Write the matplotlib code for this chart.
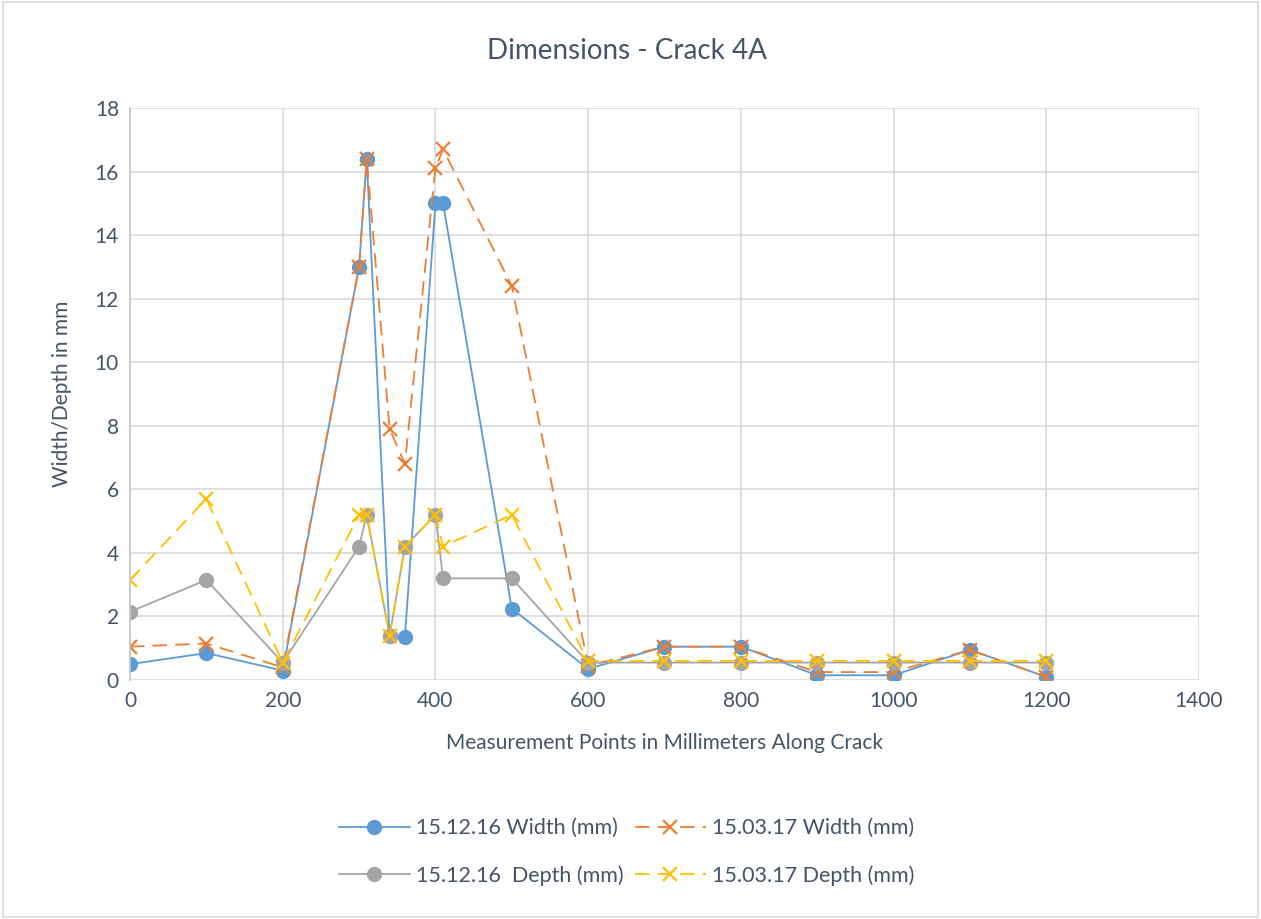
"""
Dimensions - Crack 4A
- 측정 위치별 균열 폭/깊이 (두 측정일 비교)
"""
import matplotlib
matplotlib.use("Agg")
import matplotlib.pyplot as plt
from matplotlib.patches import Rectangle

# measurement points (mm along crack)
points = [0, 100, 200, 300, 310, 340, 360, 400, 410, 500,
          600, 700, 800, 900, 1000, 1100, 1200]

width_1512 = [0.5, 0.85, 0.3, 13.0, 16.4, 1.4, 1.35, 15.0, 15.0, 2.25,
              0.35, 1.05, 1.05, 0.15, 0.15, 0.95, 0.1]
width_1503 = [1.05, 1.15, 0.4, 13.0, 16.4, 7.9, 6.8, 16.1, 16.7, 12.4,
              0.45, 1.05, 1.05, 0.25, 0.25, 0.95, 0.1]
depth_1512 = [2.15, 3.15, 0.55, 4.2, 5.2, 1.4, 4.2, 5.2, 3.2, 3.2,
              0.55, 0.55, 0.55, 0.55, 0.55, 0.55, 0.55]
depth_1503 = [3.15, 5.7, 0.55, 5.2, 5.2, 1.4, 4.2, 5.2, 4.2, 5.2,
              0.6, 0.6, 0.6, 0.6, 0.6, 0.6, 0.6]

series_labels = ["15.12.16 Width (mm)", "15.03.17 Width (mm)",
                 "15.12.16  Depth (mm)", "15.03.17 Depth (mm)"]

x_ticks = [0, 200, 400, 600, 800, 1000, 1200, 1400]
y_ticks = [0, 2, 4, 6, 8, 10, 12, 14, 16, 18]

TEXT = "#44546A"
GRID = "#D9D9D9"

plt.rcParams["font.family"] = ["Lato", "DejaVu Sans"]

fig = plt.figure(figsize=(12.61, 9.19), dpi=100)
ax = fig.add_axes([0.1031, 0.26, 0.8477, 0.6225])

# chart area border
fig.patches.append(Rectangle((0.002, 0.002), 0.996, 0.996, transform=fig.transFigure,
                             fill=False, edgecolor="#D9D9D9", linewidth=1.2))

dash = (0, (8, 4.5))
h_blue, = ax.plot(points, width_1512, color="#5B9BD5", lw=1.3, marker="o",
                  ms=10, mfc="#5B9BD5", mec="#5B9BD5")
h_orange, = ax.plot(points, width_1503, color="#ED7D31", lw=1.3, ls=dash, marker="x",
                    ms=10, mew=1.6, mec="#ED7D31")
h_gray, = ax.plot(points, depth_1512, color="#A5A5A5", lw=1.3, marker="o",
                  ms=10, mfc="#A5A5A5", mec="#A5A5A5")
h_yellow, = ax.plot(points, depth_1503, color="#FFC000", lw=1.3, ls=dash, marker="x",
                    ms=10, mew=1.6, mec="#FFC000")

ax.set_xlim(0, 1400)
ax.set_ylim(0, 18)
ax.set_xticks(x_ticks)
ax.set_yticks(y_ticks)
ax.grid(True, color=GRID, lw=1.2)
ax.set_axisbelow(True)
for side in ["top", "right", "bottom"]:
    ax.spines[side].set_visible(False)
ax.spines["left"].set_color("#BFC8D6")
ax.spines["left"].set_linewidth(1.3)
ax.tick_params(length=0, labelsize=15, colors=TEXT, pad=8)
ax.margins(0)

fig.text(0.497, 0.944, "Dimensions - Crack 4A", fontsize=20, color=TEXT,
         ha="center", va="center")
ax.set_xlabel("Measurement Points in Millimeters Along Crack", fontsize=15,
              color=TEXT, labelpad=16)
ax.set_ylabel("Width/Depth in mm", fontsize=15, color=TEXT, labelpad=16)

fig.legend([h_blue, h_gray, h_orange, h_yellow],
           [series_labels[0], series_labels[2], series_labels[1], series_labels[3]],
           ncol=2, loc="center", bbox_to_anchor=(0.497, 0.073), frameon=False,
           fontsize=15.5, labelcolor=TEXT, handlelength=3.3, handletextpad=0.3,
           columnspacing=0.5, labelspacing=1.25)

fig.savefig("out.png", dpi=100)
